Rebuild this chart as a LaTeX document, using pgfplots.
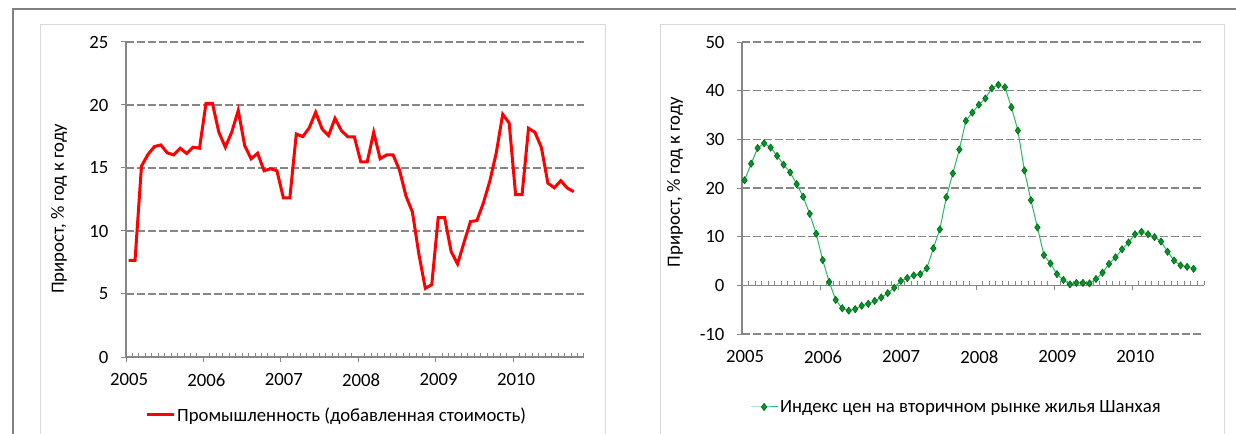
\documentclass[border=0pt]{standalone}
\usepackage{fontspec}
\setmainfont{Carlito}
\usepackage{pgfplots}
\usepackage{pgfplotstable}
\pgfplotsset{compat=1.18}

\definecolor{axgray}{RGB}{134,134,134}
\definecolor{framegray}{RGB}{128,128,128}
\definecolor{lightframe}{RGB}{217,217,217}
\definecolor{indred}{RGB}{255,0,0}
\definecolor{hline}{RGB}{40,185,100}
\definecolor{hfill}{RGB}{0,150,40}
\definecolor{hdraw}{RGB}{0,100,20}

% month index (0 = Jan 2005), year-on-year growth, %
\pgfplotstableread{
m  v
0  7.67
1  7.67
2  15.15
3  16.07
4  16.70
5  16.83
6  16.20
7  16.04
8  16.57
9  16.15
10 16.65
11 16.57
12 20.13
13 20.13
14 17.83
15 16.65
16 17.86
17 19.57
18 16.78
19 15.73
20 16.17
21 14.78
22 14.94
23 14.78
24 12.62
25 12.62
26 17.70
27 17.49
28 18.18
29 19.42
30 18.10
31 17.57
32 18.94
33 17.96
34 17.47
35 17.47
36 15.49
37 15.49
38 17.83
39 15.73
40 16.04
41 16.04
42 14.83
43 12.78
44 11.51
45 8.17
46 5.45
47 5.74
48 11.06
49 11.06
50 8.38
51 7.38
52 9.09
53 10.75
54 10.83
55 12.22
56 13.96
57 16.20
58 19.26
59 18.57
60 12.88
61 12.88
62 18.15
63 17.83
64 16.62
65 13.80
66 13.43
67 13.99
68 13.41
69 13.12
}\industry

\pgfplotstableread{
m  v
0  21.6
1  25.0
2  28.2
3  29.2
4  28.3
5  26.6
6  24.8
7  23.2
8  20.8
9  18.2
10 14.7
11 10.6
12 5.2
13 0.7
14 -3.0
15 -4.7
16 -5.2
17 -4.9
18 -4.2
19 -3.8
20 -3.2
21 -2.5
22 -1.6
23 -0.5
24 0.9
25 1.5
26 2.05
27 2.3
28 3.5
29 7.6
30 11.5
31 18.1
32 23.0
33 27.9
34 33.8
35 35.5
36 37.1
37 38.4
38 40.5
39 41.2
40 40.7
41 36.6
42 31.8
43 23.6
44 17.5
45 11.9
46 6.2
47 4.5
48 2.3
49 1.1
50 0.2
51 0.5
52 0.5
53 0.4
54 1.3
55 2.6
56 4.4
57 5.75
58 7.4
59 8.8
60 10.5
61 11.0
62 10.5
63 9.9
64 9.0
65 6.9
66 5.1
67 4.1
68 3.8
69 3.4
}\housing

\pgfplotsset{
  excelchart/.style={
    scale only axis,
    xmin=0, xmax=71,
    enlargelimits=false,
    axis y line*=left,
    axis line style={draw=axgray, line width=1.2bp},
    xtick={0,12,...,60},
    xticklabels={2005,2006,2007,2008,2009,2010},
    minor xtick={1,...,11,13,14,...,23,25,26,...,35,37,38,...,47,49,50,...,59,61,62,...,71},
    tick align=outside,
    major tick length=5bp,
    minor tick length=4bp,
    tick style={axgray, line width=1bp},
    minor tick style={yshift=4bp},
    ymajorgrids,
    major grid style={axgray, line width=1.3bp, dash pattern=on 7.5bp off 3.5bp},
    /pgf/number format/assume math mode=true,
    tick label style={font=\fontsize{18.8}{21}\selectfont},
    yticklabel style={xshift=-9bp},
    label style={font=\fontsize{18.8}{21}\selectfont},
    ylabel={Прирост, \% год к году},
    hide obscured x ticks=false,
    hide obscured y ticks=false,
    legend style={draw=none, fill=none, anchor=west,
      font=\fontsize{18.8}{21}\selectfont, inner sep=0pt,
      nodes={inner sep=2bp}},
    legend cell align=left,
  }
}

\begin{document}
\begin{tikzpicture}
\path[use as bounding box] (0bp,0bp) rectangle (1236bp,434bp);
% frames
\draw[lightframe, line width=1bp] (40bp,0bp) -- (40bp,409bp) -- (605bp,409bp) -- (605bp,0bp);
\draw[lightframe, line width=1bp] (660bp,0bp) -- (660bp,409bp) -- (1224bp,409bp) -- (1224bp,0bp);
\draw[framegray, line width=2bp] (13bp,0bp) -- (13bp,425bp) -- (1236bp,425bp);

\begin{axis}[
  excelchart,
  at={(126bp,77bp)}, anchor=south west,
  width=458bp, height=315bp,
  ymin=0, ymax=25, ytick={0,5,...,25},
  axis x line*=bottom,
  xticklabel style={xshift=3bp, yshift=-8bp},
  ylabel style={at={(axis description cs:-0.146,0.47)}, anchor=center},
  legend style={at={(axis description cs:0.0415,-0.184)}},
  legend image code/.code={\draw[#1] (0bp,0bp) -- (27bp,0bp);},
]
\addplot[indred, line width=3bp, no markers] table[x expr=\thisrow{m}+0.4, y=v] {\industry};
\addlegendentry{Промышленность (добавленная стоимость)}
\end{axis}

\begin{axis}[
  excelchart,
  at={(742bp,100bp)}, anchor=south west,
  width=462bp, height=292bp,
  ymin=-10, ymax=50, ytick={-10,0,...,50},
  axis x line*=middle,
  xticklabel style={xshift=3bp, yshift=-56.67bp, anchor=north},
  ylabel style={at={(axis description cs:-0.145,0.52)}, anchor=center},
  legend style={at={(axis description cs:0.017,-0.25)}},
  legend image code/.code={\draw[#1, mark repeat=2, mark phase=2] plot coordinates {(0bp,0bp) (13.5bp,0bp) (27bp,0bp)};},
]
\addplot[hline, line width=1bp, mark=diamond*, mark size=3.6bp,
  mark options={fill=hfill, draw=hdraw, line width=0.6bp}]
  table[x expr=\thisrow{m}+0.4, y=v] {\housing};
\addlegendentry{Индекс цен на вторичном рынке жилья Шанхая}
\end{axis}
\end{tikzpicture}
\end{document}
